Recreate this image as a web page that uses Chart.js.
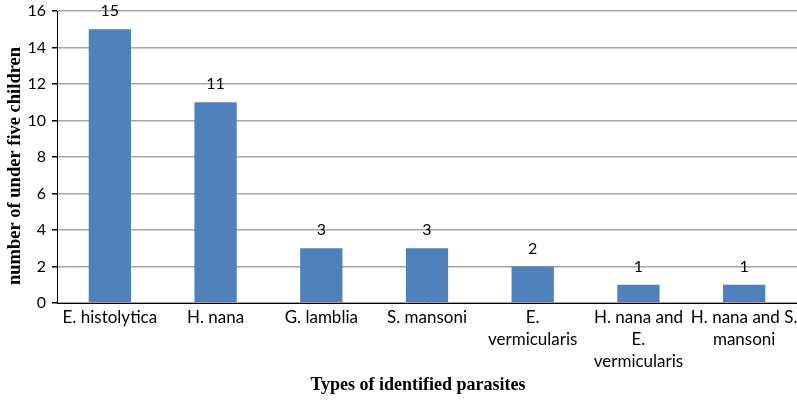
<!DOCTYPE html>
<html>
<head>
<meta charset="utf-8">
<script src="https://cdn.jsdelivr.net/npm/chart.js@4/dist/chart.umd.min.js"></script>
<style>
html,body{margin:0;padding:0;background:#fff;}
#wrap{width:797px;height:404px;position:relative;}
</style>
</head>
<body>
<div id="wrap"><canvas id="c" width="797" height="404"></canvas></div>
<script>
const categories = [
  "E. histolytica",
  "H. nana",
  "G. lamblia",
  "S. mansoni",
  ["E.", "vermicularis"],
  ["H. nana and", "E.", "vermicularis"],
  ["H. nana and S.", "mansoni"]
];
const counts = [15, 11, 3, 3, 2, 1, 1];
const yTicks = [0, 2, 4, 6, 8, 10, 12, 14, 16];
const xTitle = 'Types of identified parasites';
const yTitle = 'number of under five children';

const tickFont = "'Lato', 'Open Sans', sans-serif";
const titleFont = "'Liberation Serif', 'Times New Roman', serif";

const dataLabels = {
  id: 'dataLabels',
  afterDatasetsDraw(chart) {
    const ctx = chart.ctx;
    const meta = chart.getDatasetMeta(0);
    ctx.save();
    ctx.font = "16px " + tickFont;
    ctx.fillStyle = '#000';
    ctx.textAlign = 'center';
    ctx.textBaseline = 'alphabetic';
    meta.data.forEach((bar, i) => {
      ctx.fillText(String(counts[i]), bar.x, bar.y - 13);
    });
    ctx.restore();
  }
};

const axisTitles = {
  id: 'axisTitles',
  afterDraw(chart) {
    const ctx = chart.ctx;
    ctx.save();
    ctx.fillStyle = '#000';
    ctx.textAlign = 'center';
    ctx.textBaseline = 'middle';
    ctx.font = "bold 18px " + titleFont;
    ctx.fillText(xTitle, 418, 385);
    ctx.translate(15, 166);
    ctx.rotate(-Math.PI / 2);
    ctx.font = "bold 18.5px " + titleFont;
    ctx.fillText(yTitle, 0, 0);
    ctx.restore();
  }
};

new Chart(document.getElementById('c'), {
  type: 'bar',
  data: {
    labels: categories,
    datasets: [{
      data: counts,
      backgroundColor: '#4F81BD',
      borderWidth: 0,
      categoryPercentage: 1,
      barPercentage: 0.4
    }]
  },
  options: {
    responsive: false,
    animation: false,
    devicePixelRatio: 1,
    layout: { padding: { top: 11, right: 0, left: 0, bottom: 0 } },
    plugins: { legend: { display: false }, tooltip: { enabled: false } },
    scales: {
      x: {
        grid: { display: false, drawTicks: false },
        border: { display: true, color: '#000', width: 1 },
        ticks: {
          color: '#000',
          font: { family: tickFont, size: 17, lineHeight: 1.3 },
          padding: 3,
          maxRotation: 0,
          autoSkip: false
        },
        title: { display: false },
        afterFit(scale) { scale.height = 101; scale.paddingLeft = 0; scale.paddingRight = 0; }
      },
      y: {
        min: 0, max: 16,
        afterBuildTicks(scale) { scale.ticks = yTicks.map(v => ({ value: v })); },
        grid: { color: '#a6a6a6', lineWidth: 1.5, drawTicks: true, tickLength: 5, tickColor: '#000' },
        border: { display: true, color: '#000', width: 1 },
        ticks: {
          color: '#000',
          font: { family: tickFont, size: 16 },
          padding: 6
        },
        title: { display: false },
        afterFit(scale) { scale.width = 57; scale.paddingTop = 0; scale.paddingBottom = 0; }
      }
    }
  },
  plugins: [dataLabels, axisTitles]
});
</script>
</body>
</html>
